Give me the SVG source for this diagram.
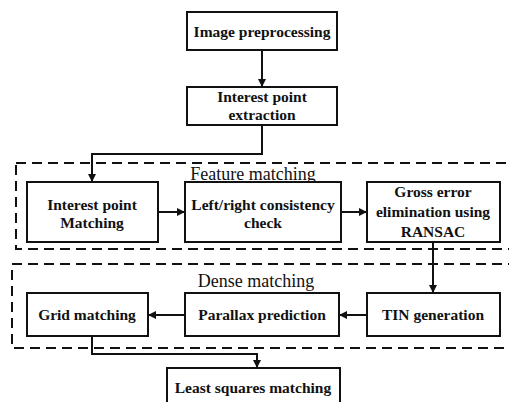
<svg xmlns="http://www.w3.org/2000/svg" width="509" height="402" viewBox="0 0 509 402">
<defs>
<marker id="ah" markerWidth="8" markerHeight="8" refX="7" refY="4" orient="auto" markerUnits="userSpaceOnUse">
<path d="M0,0 L8,4 L0,8 Z" fill="#111"/>
</marker>
<style>
.box{fill:#fff;stroke:#111;stroke-width:2}
.grp{fill:none;stroke:#111;stroke-width:2;stroke-dasharray:10 6}
.t{font-family:"Liberation Serif",serif;font-weight:bold;font-size:15.5px;fill:#111;text-anchor:middle}
.g{font-family:"Liberation Serif",serif;font-size:18px;fill:#111;text-anchor:middle}
.c{fill:none;stroke:#111;stroke-width:2}
</style>
</defs>
<rect width="509" height="402" fill="#fff"/>
<g id="feature-group">
<rect class="grp" x="16" y="163" width="496" height="86"/>
<text class="g" x="253" y="180">Feature matching</text>
</g>
<g id="dense-group">
<rect class="grp" x="12" y="264" width="500" height="84"/>
<text class="g" x="256" y="287">Dense matching</text>
</g>
<g id="connectors">
<path class="c" d="M262,50 V86" marker-end="url(#ah)"/>
<path class="c" d="M262,125 V154 H92 V181" marker-end="url(#ah)"/>
<path class="c" d="M158,212 H184" marker-end="url(#ah)"/>
<path class="c" d="M341,212 H366" marker-end="url(#ah)"/>
<path class="c" d="M433,242 V292" marker-end="url(#ah)"/>
<path class="c" d="M367,315 H340" marker-end="url(#ah)"/>
<path class="c" d="M185,315 H149" marker-end="url(#ah)"/>
<path class="c" d="M92,336 V354 H257 V367" marker-end="url(#ah)"/>
</g>
<g id="n1"><rect class="box" x="187" y="12" width="150" height="38"/><text class="t" x="262" y="37">Image preprocessing</text></g>
<g id="n2"><rect class="box" x="187" y="87" width="150" height="38"/><text class="t" x="262" y="102">Interest point</text><text class="t" x="262" y="120">extraction</text></g>
<g id="n3"><rect class="box" x="27" y="182" width="131" height="60"/><text class="t" x="92" y="210">Interest point</text><text class="t" x="92" y="228">Matching</text></g>
<g id="n4"><rect class="box" x="185" y="182" width="156" height="60"/><text class="t" x="263" y="210">Left/right consistency</text><text class="t" x="263" y="228">check</text></g>
<g id="n5"><rect class="box" x="367" y="182" width="133" height="60"/><text class="t" x="433" y="197">Gross error</text><text class="t" x="433" y="217">elimination using</text><text class="t" x="433" y="237">RANSAC</text></g>
<g id="n6"><rect class="box" x="367" y="293" width="133" height="43"/><text class="t" x="433" y="320">TIN generation</text></g>
<g id="n7"><rect class="box" x="185" y="293" width="154" height="43"/><text class="t" x="262" y="320">Parallax prediction</text></g>
<g id="n8"><rect class="box" x="27" y="293" width="121" height="43"/><text class="t" x="87" y="320">Grid matching</text></g>
<g id="n9"><rect class="box" x="167" y="368" width="173" height="40"/><text class="t" x="253" y="393">Least squares matching</text></g>
</svg>
